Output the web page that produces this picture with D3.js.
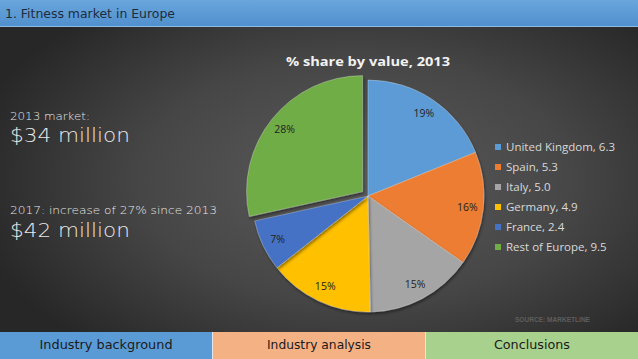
<!DOCTYPE html>
<html><head><meta charset="utf-8">
<script src="https://cdn.jsdelivr.net/npm/d3@7"></script>
<style>html,body{margin:0;padding:0;background:#333;}svg{display:block;}</style>
</head><body>
<svg id="c" width="638" height="359"></svg>
<script>
const categories = ["United Kingdom", "Spain", "Italy", "Germany", "France", "Rest of Europe"];
const values = [6.3, 5.3, 5.0, 4.9, 2.4, 9.5];
const colors = ["#5b9bd5", "#ed7d31", "#a5a5a5", "#ffc000", "#4472c4", "#70ad47"];
const exploded = [false, false, false, false, false, true];
const chartTitle = "% share by value, 2013";
const headerTitle = "1. Fitness market in Europe";
const sideLabels = ["2013 market:", "$34 million", "2017: increase of 27% since 2013", "$42 million"];
const navTabs = ["Industry background", "Industry analysis", "Conclusions"];
const navColors = ["#5b9bd5", "#f4b183", "#a9d18e"];
const sourceText = "SOURCE: MARKETLINE";

const W = 638, H = 359;
const svg = d3.select("#c");
const defs = svg.append("defs");

const bg = defs.append("radialGradient").attr("id", "bg")
  .attr("cx", "0.56").attr("cy", "0.5").attr("r", "0.62");
bg.append("stop").attr("offset", "0").attr("stop-color", "#5c5c5c");
bg.append("stop").attr("offset", "0.55").attr("stop-color", "#464646");
bg.append("stop").attr("offset", "1").attr("stop-color", "#272727");

const hg = defs.append("linearGradient").attr("id", "hg").attr("x1", 0).attr("y1", 0).attr("x2", 0).attr("y2", 1);
hg.append("stop").attr("offset", "0").attr("stop-color", "#6aa6dd");
hg.append("stop").attr("offset", "1").attr("stop-color", "#4f8fcd");

const sh = defs.append("filter").attr("id", "sh").attr("x", "-20%").attr("y", "-20%").attr("width", "140%").attr("height", "140%");
sh.append("feDropShadow").attr("dx", 1).attr("dy", 2).attr("stdDeviation", 1.5).attr("flood-color", "#000").attr("flood-opacity", 0.45);

svg.append("rect").attr("width", W).attr("height", H).attr("fill", "url(#bg)");

// header
svg.append("rect").attr("x", 0).attr("y", 0).attr("width", W).attr("height", 27).attr("fill", "url(#hg)");
svg.append("rect").attr("x", 0).attr("y", 26).attr("width", W).attr("height", 1).attr("fill", "#8fbce6");
svg.append("text").attr("x", 5).attr("y", 18).text(headerTitle)
  .attr("font-family", "'DejaVu Sans', sans-serif").attr("font-size", 13).attr("fill", "#1d2c3c")
  .attr("textLength", 170).attr("lengthAdjust", "spacingAndGlyphs");

// side labels
const sideFont = "'DejaVu Sans', sans-serif";
const side = [
  {t: sideLabels[0], y: 120, s: 11, w: 80},
  {t: sideLabels[1], y: 142, s: 20, w: 120},
  {t: sideLabels[2], y: 214, s: 11, w: 207},
  {t: sideLabels[3], y: 237, s: 20, w: 120}
];
svg.append("g").selectAll("text").data(side).join("text")
  .attr("x", 10).attr("y", d => d.y).text(d => d.t)
  .attr("font-family", sideFont).attr("font-weight", 300)
  .attr("font-size", d => d.s).attr("fill", "#e8e8e8")
  .attr("textLength", d => d.w).attr("lengthAdjust", "spacingAndGlyphs");

// pie
const cx = 368, cy = 196, R = 116, labelR = 100, explode = 7;
const pie = d3.pie().value(d => d.v).sort(null);
const arcs = pie(values.map((v, i) => ({v, i, name: categories[i]})));
const arc = d3.arc().innerRadius(0).outerRadius(R);
const labelArc = d3.arc().innerRadius(labelR).outerRadius(labelR);
const total = d3.sum(values);

const pg = svg.append("g").attr("transform", `translate(${cx},${cy})`);
const sl = pg.selectAll("g.s").data(arcs).join("g").attr("class", "s")
  .attr("transform", d => {
    if (!exploded[d.data.i]) return null;
    const a = (d.startAngle + d.endAngle) / 2;
    return `translate(${Math.sin(a) * explode},${-Math.cos(a) * explode})`;
  });
sl.append("path").attr("d", arc).attr("fill", d => colors[d.data.i])
  .attr("stroke", "rgba(255,255,255,0.35)").attr("stroke-width", 0.8)
  .attr("filter", "url(#sh)");
sl.append("text")
  .attr("transform", d => `translate(${labelArc.centroid(d)})`)
  .attr("text-anchor", "middle").attr("dominant-baseline", "central")
  .attr("font-family", "'Open Sans', 'Liberation Sans', sans-serif").attr("font-size", 10.5)
  .attr("fill", "#222")
  .text(d => Math.round(d.data.v / total * 100) + "%");

// chart title
svg.append("text").attr("x", cx).attr("y", 66).attr("text-anchor", "middle")
  .text(chartTitle).attr("font-family", "'Open Sans', sans-serif").attr("font-weight", "bold")
  .attr("font-size", 13).attr("fill", "#f2f2f2")
  .attr("textLength", 164).attr("lengthAdjust", "spacingAndGlyphs");

// legend
const lg = svg.append("g").attr("transform", "translate(495,147)");
const rows = lg.selectAll("g").data(categories).join("g")
  .attr("transform", (d, i) => `translate(0,${i * 20})`);
rows.append("rect").attr("x", 0).attr("y", -3).attr("width", 6).attr("height", 6)
  .attr("fill", (d, i) => colors[i]);
const lt = rows.append("text").attr("x", 11).attr("y", 4)
  .attr("font-family", "'Open Sans', sans-serif").attr("font-size", 11).attr("fill", "#d9d9d9")
  .text((d, i) => `${d}, ${values[i].toFixed(1)}`);
const w0 = lt.nodes()[0].getComputedTextLength();
const factor = 109 / w0;
lt.each(function() {
  const w = this.getComputedTextLength();
  d3.select(this).attr("textLength", w * factor).attr("lengthAdjust", "spacingAndGlyphs");
});

// source
svg.append("text").attr("x", 515).attr("y", 322).text(sourceText)
  .attr("font-family", "'Liberation Sans', sans-serif").attr("font-weight", "bold")
  .attr("font-size", 7).attr("fill", "#5e5e5e")
  .attr("textLength", 75).attr("lengthAdjust", "spacingAndGlyphs");

// nav bar
const navX = d3.scaleBand().domain(navTabs).range([0, W]).paddingInner(0.004);
const nav = svg.append("g").attr("transform", "translate(0,332)");
nav.append("rect").attr("width", W).attr("height", 27).attr("fill", "#f0f0f0");
nav.selectAll("rect.t").data(navTabs).join("rect").attr("class", "t")
  .attr("x", d => navX(d)).attr("width", navX.bandwidth()).attr("height", 27)
  .attr("fill", (d, i) => navColors[i]);
const navW = [133, 104, 76];
nav.selectAll("text").data(navTabs).join("text")
  .attr("x", d => navX(d) + navX.bandwidth() / 2).attr("y", 17).attr("text-anchor", "middle")
  .text(d => d).attr("font-family", sideFont).attr("font-size", 12.5).attr("fill", "#1a1a1a")
  .attr("textLength", (d, i) => navW[i]).attr("lengthAdjust", "spacingAndGlyphs");
</script>
</body></html>
